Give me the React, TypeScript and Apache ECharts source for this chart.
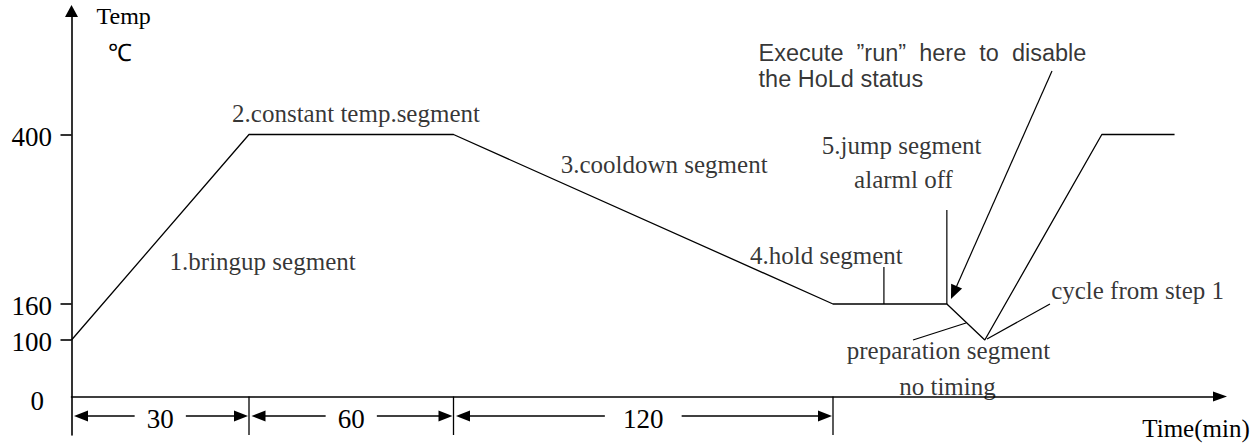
import React, { useEffect, useRef } from "react";
import * as echarts from "echarts";

// ---- data (time in min, temperature in ℃) ----
const tempTicks = [0, 100, 160, 400];
const timeMarks = [0, 30, 90, 210];
// after 210 min the hold / preparation part has no timing (schematic continuation)
const profileTime = [0, 30, 90, 210, 246, 258, 295, 318];
const profileTemp = [100, 400, 400, 160, 160, 100, 400, 400];

const noteTexts = [
  "1.bringup segment",
  "2.constant temp.segment",
  "3.cooldown segment",
  "4.hold segment",
  "5.jump segment",
  "alarml off",
  "preparation segment",
  "no timing",
  "cycle from step 1",
];
const execText = "Execute \u00a0\u201drun\u201d \u00a0here \u00a0to \u00a0disable\nthe HoLd status";

// ---- schematic axis layout (the drawing is not to scale) ----
const tempAxisPos = [0, 56.5, 92.5, 262];
const timeAxisPos = [0, 177.5, 382, 761.5];
// annotation anchors, in chart units [time, temp]
const noteAnchorTime = [34, 61.4, 156.6, 207.9, 231.7, 232.3, 246.5, 246.2, 306.3];
const noteAnchorTemp = [220, 430, 357, 228.5, 384.3, 336.3, 81.2, 17.5, 179.8];
const execAnchor = [186.3, 497];
// leader lines [t1, T1, t2, T2, arrow]
const callouts = [
  [226.1, 160, 226.1, 212.4, 0],
  [246, 160, 246, 293.1, 0],
  [279.25, 489.9, 247.3, 167.1, 1],
  [235.3, 100, 252.05, 128.3, 0],
  [258.7, 101.7, 278.6, 160, 0],
];

function piecewise(v: number, xs: number[], ys: number[]) {
  let i = xs.length - 2;
  if (v <= xs[0]) i = 0;
  else {
    for (let k = 0; k < xs.length - 1; k++) {
      if (v <= xs[k + 1]) {
        i = k;
        break;
      }
    }
  }
  return ys[i] + ((v - xs[i]) * (ys[i + 1] - ys[i])) / (xs[i + 1] - xs[i]);
}
const tX = (t: number) => piecewise(t, timeMarks, timeAxisPos);
const tY = (T: number) => piecewise(T, tempTicks, tempAxisPos);

const GRID = { left: 71.5, top: 11, width: 1148.5, height: 424 };
const AXIS_Y = 396.5;
const Y_MAX = AXIS_Y - GRID.top;
const Y_MIN = AXIS_Y - (GRID.top + GRID.height);
const SERIF = '"Liberation Serif", "Times New Roman", serif';
const DIM_OFFSET = 19.5;
const DIM_LABEL_OFFSET = 22.5;

function arrowHead(tip: number[], from: number[], L: number, W: number) {
  const dx = tip[0] - from[0];
  const dy = tip[1] - from[1];
  const len = Math.sqrt(dx * dx + dy * dy) || 1;
  const ux = dx / len;
  const uy = dy / len;
  const bx = tip[0] - ux * L;
  const by = tip[1] - uy * L;
  return [
    [tip[0], tip[1]],
    [bx - (uy * W) / 2, by + (ux * W) / 2],
    [bx + (uy * W) / 2, by - (ux * W) / 2],
  ];
}

export default function App() {
  const ref = useRef<HTMLDivElement>(null);
  useEffect(() => {
    if (!ref.current) return;
    const chart = echarts.init(ref.current, null, { renderer: "svg" });
    const labelFor = (val: number) => {
      for (let i = 0; i < tempTicks.length; i++) {
        if (Math.abs(tY(tempTicks[i]) - val) < 0.01) {
          return tempTicks[i] === 0 ? "{z|0}" : "{n|" + tempTicks[i] + "}";
        }
      }
      return "";
    };
    const lineStyle = { stroke: "#000", lineWidth: 1.3 };
    const option: any = {
      animation: false,
      grid: { ...GRID, containLabel: false },
      xAxis: {
        type: "value",
        min: 0,
        max: GRID.width,
        axisLine: {
          show: true,
          onZero: true,
          symbol: ["none", "triangle"],
          symbolSize: [10, 14],
          lineStyle: { color: "#000", width: 1.6 },
        },
        axisTick: { show: false },
        axisLabel: { show: false },
        splitLine: { show: false },
      },
      yAxis: {
        type: "value",
        min: Y_MIN,
        max: Y_MAX,
        axisLine: {
          show: true,
          onZero: true,
          symbol: ["none", "triangle"],
          symbolSize: [13, 12],
          lineStyle: { color: "#000", width: 1.6 },
        },
        axisTick: {
          show: true,
          inside: false,
          length: 11,
          customValues: tempTicks.filter((t) => t > 0).map(tY),
          lineStyle: { color: "#000", width: 1.6 },
        },
        axisLabel: {
          show: true,
          margin: 19.5,
          customValues: tempTicks.map(tY),
          formatter: labelFor,
          color: "#000",
          fontFamily: SERIF,
          fontSize: 27,
          rich: {
            n: { fontFamily: SERIF, fontSize: 27, color: "#000", padding: [4, 0, 0, 0] },
            z: { fontFamily: SERIF, fontSize: 27, color: "#000", padding: [9, 8, 0, 0] },
          },
        },
        splitLine: { show: false },
      },
      graphic: [
        {
          type: "text",
          x: 96.5,
          y: 16,
          style: {
            text: "Temp",
            fill: "#000",
            font: "24px " + SERIF,
            textAlign: "left",
            textVerticalAlign: "middle",
          },
        },
        {
          type: "text",
          x: 120,
          y: 53,
          style: {
            text: "\u2103",
            fill: "#000",
            font: "24px " + SERIF,
            textAlign: "center",
            textVerticalAlign: "middle",
          },
        },
        {
          type: "text",
          x: 1196,
          y: 428.5,
          style: {
            text: "Time(min)",
            fill: "#000",
            font: "25px " + SERIF,
            textAlign: "center",
            textVerticalAlign: "middle",
          },
        },
      ],
      series: [
        {
          type: "line",
          name: "profile",
          data: profileTime.map((t, i) => [tX(t), tY(profileTemp[i])]),
          symbol: "none",
          showSymbol: false,
          silent: true,
          clip: false,
          lineStyle: { color: "#000", width: 1.3 },
          z: 3,
        },
        {
          type: "custom",
          name: "durations",
          silent: true,
          data: timeMarks.slice(0, -1).map((t, i) => [tX(t), tX(timeMarks[i + 1]), timeMarks[i + 1] - t]),
          renderItem: (params: any, api: any) => {
            const a = api.coord([api.value(0), 0]);
            const b = api.coord([api.value(1), 0]);
            const axisY = a[1];
            const cs = params.coordSys;
            const bottom = cs.y + cs.height;
            const y = axisY + DIM_OFFSET;
            const label = String(api.value(2));
            const mid = (a[0] + b[0]) / 2;
            const gap = label.length * 12.8;
            const tipL = a[0] + 2.5;
            const tipR = b[0] - 1;
            const L = 14;
            const W = 11;
            return {
              type: "group",
              children: [
                { type: "line", shape: { x1: b[0], y1: axisY, x2: b[0], y2: bottom }, style: lineStyle },
                { type: "line", shape: { x1: mid - gap, y1: y, x2: tipL + L * 0.8, y2: y }, style: lineStyle },
                { type: "polygon", shape: { points: arrowHead([tipL, y], [mid, y], L, W) }, style: { fill: "#000" } },
                { type: "line", shape: { x1: mid + gap, y1: y, x2: tipR - L * 0.8, y2: y }, style: lineStyle },
                { type: "polygon", shape: { points: arrowHead([tipR, y], [mid, y], L, W) }, style: { fill: "#000" } },
                {
                  type: "text",
                  style: {
                    text: label,
                    x: mid,
                    y: axisY + DIM_LABEL_OFFSET,
                    fill: "#000",
                    font: "27px " + SERIF,
                    textAlign: "center",
                    textVerticalAlign: "middle",
                  },
                },
              ],
            };
          },
          z: 4,
        },
        {
          type: "custom",
          name: "callouts",
          silent: true,
          data: callouts.map((c) => [tX(c[0]), tY(c[1]), tX(c[2]), tY(c[3]), c[4]]),
          renderItem: (params: any, api: any) => {
            const p1 = api.coord([api.value(0), api.value(1)]);
            const p2 = api.coord([api.value(2), api.value(3)]);
            const arrow = api.value(4);
            const children: any[] = [];
            if (arrow) {
              const L = 14;
              const dx = p2[0] - p1[0];
              const dy = p2[1] - p1[1];
              const len = Math.sqrt(dx * dx + dy * dy);
              const e = [p2[0] - (dx / len) * L * 0.8, p2[1] - (dy / len) * L * 0.8];
              children.push({ type: "line", shape: { x1: p1[0], y1: p1[1], x2: e[0], y2: e[1] }, style: { stroke: "#000", lineWidth: 1.2 } });
              children.push({ type: "polygon", shape: { points: arrowHead(p2, p1, L, 12) }, style: { fill: "#000" } });
            } else {
              children.push({ type: "line", shape: { x1: p1[0], y1: p1[1], x2: p2[0], y2: p2[1] }, style: { stroke: "#000", lineWidth: 1.2 } });
            }
            return { type: "group", children };
          },
          z: 4,
        },
        {
          type: "scatter",
          name: "notes",
          silent: true,
          symbolSize: 1,
          itemStyle: { color: "rgba(0,0,0,0)" },
          label: {
            show: true,
            position: "inside",
            formatter: "{b}",
            color: "#000",
            fontFamily: SERIF,
            fontSize: 25,
          },
          data: [
            ...noteTexts.map((txt, i) => ({
              name: txt,
              value: [tX(noteAnchorTime[i]), tY(noteAnchorTemp[i])],
            })),
            {
              name: execText,
              value: [tX(execAnchor[0]), tY(execAnchor[1])],
              label: {
                position: "right",
                distance: 0,
                align: "left",
                fontFamily: '"Liberation Sans", Arial, sans-serif',
                fontSize: 23.5,
                lineHeight: 26,
              },
            },
          ],
          z: 5,
        },
      ],
    };
    chart.setOption(option);
    return () => chart.dispose();
  }, []);
  return (
    <div
      ref={ref}
      style={{ position: "fixed", left: 0, top: 0, width: 1260, height: 446, background: "#fff" }}
    />
  );
}
